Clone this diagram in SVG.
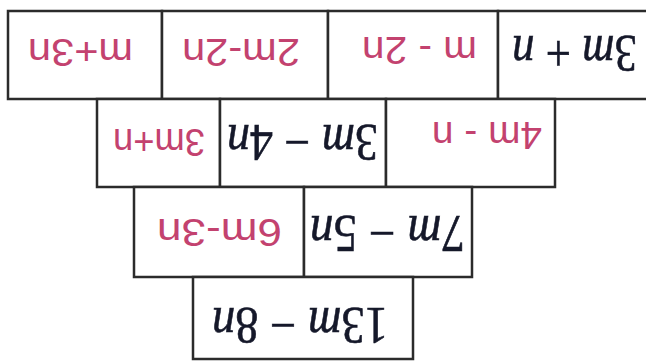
<svg xmlns="http://www.w3.org/2000/svg" width="646" height="363" viewBox="0 0 646 363">
<style>
  .cell { fill: #ffffff; stroke: #2b2b2b; stroke-width: 2.5; }
  .typ { font-family: "Liberation Serif", "Times New Roman", serif; font-size: 52px; fill: #15182a; stroke: #15182a; stroke-width: 0.6; }
  .typ .v { font-style: italic; }
  .hand { font-family: "Liberation Sans", Arial, sans-serif; font-size: 38px; fill: #c3426f; }
</style>
<rect width="646" height="363" fill="#ffffff"/>
<g id="row1">
  <g id="r1c1">
    <rect class="cell" x="8" y="11" width="154" height="88"/>
    <text class="hand" x="80.5" y="66" text-anchor="middle" textLength="105" lengthAdjust="spacingAndGlyphs" transform="rotate(180 80.5 52.5)">m+3n</text>
  </g>
  <g id="r1c2">
    <rect class="cell" x="162" y="11" width="166" height="88"/>
    <text class="hand" x="241" y="66" text-anchor="middle" textLength="118" lengthAdjust="spacingAndGlyphs" transform="rotate(180 241 52.5)">2m-2n</text>
  </g>
  <g id="r1c3">
    <rect class="cell" x="328" y="11" width="170" height="88"/>
    <text class="hand" x="419.5" y="63.5" text-anchor="middle" textLength="115" lengthAdjust="spacingAndGlyphs" transform="rotate(180 419.5 50)">m - 2n</text>
  </g>
  <g id="r1c4">
    <rect class="cell" x="498" y="11" width="160" height="88"/>
    <text class="typ" x="574.5" y="72" text-anchor="middle" textLength="125" lengthAdjust="spacingAndGlyphs" transform="rotate(180 574.5 54)">3<tspan class="v">m</tspan> + <tspan class="v">n</tspan></text>
  </g>
</g>
<g id="row2">
  <g id="r2c1">
    <rect class="cell" x="97" y="99" width="123" height="88"/>
    <text class="hand" x="159" y="156" text-anchor="middle" textLength="92" lengthAdjust="spacingAndGlyphs" transform="rotate(180 159 142.5)">3m+n</text>
  </g>
  <g id="r2c2">
    <rect class="cell" x="220" y="99" width="166" height="88"/>
    <text class="typ" x="302.5" y="160.5" text-anchor="middle" textLength="151" lengthAdjust="spacingAndGlyphs" transform="rotate(180 302.5 142.5)">3<tspan class="v">m</tspan> − 4<tspan class="v">n</tspan></text>
  </g>
  <g id="r2c3">
    <rect class="cell" x="386" y="99" width="169" height="88"/>
    <text class="hand" x="487" y="149" text-anchor="middle" textLength="110" lengthAdjust="spacingAndGlyphs" transform="rotate(180 487 135.5)">4m - n</text>
  </g>
</g>
<g id="row3">
  <g id="r3c1">
    <rect class="cell" x="134" y="187" width="170" height="90"/>
    <text class="hand" x="219.5" y="245.5" text-anchor="middle" textLength="125" lengthAdjust="spacingAndGlyphs" transform="rotate(180 219.5 232)">6m-3n</text>
  </g>
  <g id="r3c2">
    <rect class="cell" x="304" y="187" width="168" height="90"/>
    <text class="typ" x="387.5" y="251.5" text-anchor="middle" textLength="155" lengthAdjust="spacingAndGlyphs" transform="rotate(180 387.5 233.5)">7<tspan class="v">m</tspan> − 5<tspan class="v">n</tspan></text>
  </g>
</g>
<g id="row4">
  <g id="r4c1">
    <rect class="cell" x="193" y="277" width="220" height="82"/>
    <text class="typ" x="300" y="344" text-anchor="middle" textLength="176" lengthAdjust="spacingAndGlyphs" transform="rotate(180 300 326)">13<tspan class="v">m</tspan> − 8<tspan class="v">n</tspan></text>
  </g>
</g>
<g id="connectors"/>
</svg>
